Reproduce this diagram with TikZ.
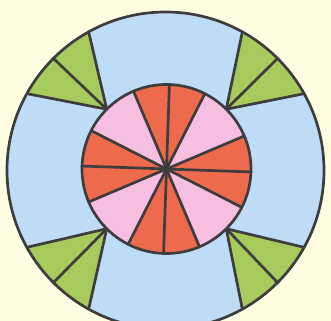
\documentclass[tikz,border=0pt]{standalone}
\usepackage{xcolor}
\usepackage{tikz}
\usetikzlibrary{calc}
\definecolor{bgyellow}{HTML}{FEFDE1}
\definecolor{ringblue}{HTML}{BFDCF6}
\definecolor{petalpink}{HTML}{F6BFE2}
\definecolor{petalred}{HTML}{EE6A4C}
\definecolor{leafgreen}{HTML}{A6CB5C}
\definecolor{inkgray}{HTML}{3D3D3D}
\tikzset{
  outline/.style={draw=inkgray, line width=2.3pt, line join=round, line cap=round},
}

\begin{document}
\begin{tikzpicture}[x=0.03cm, y=0.03cm]
  % background
  \fill[bgyellow] (-165.5,-150.5) rectangle (165.5,170.5);
  \useasboundingbox (-165.5,-150.5) rectangle (165.5,170.5);
  \coordinate (hub) at (1,1.5);
  % outer ring
  \fill[ringblue] (0,0) circle (158.5);
  % green wedges
  \foreach \a in {45,135,225,315} {
    \fill[leafgreen] ($(hub)+(\a:84.5)$) -- (\a-16:158.5) arc (\a-16:\a+16:158.5) -- cycle;
    \draw[outline] (\a-16:158.5) -- ($(hub)+(\a:84.5)$) -- (\a+16:158.5);
    \draw[outline] ($(hub)+(\a:84.5)$) -- (\a:158.5);
  }
  % inner disk
  \fill[petalpink] (hub) circle (84.5);
  \foreach \c in {88,178,268,358} {
    \fill[petalred] (hub) -- ++(\c-25:84.5) arc (\c-25:\c+25:84.5) -- cycle;
    \foreach \b in {-25,0,25}
      \draw[outline] (hub) -- ++(\c+\b:84.5);
  }
  % rims
  \draw[outline] (hub) circle (84.5);
  \draw[outline] (0,0) circle (158.5);
\end{tikzpicture}
\end{document}
